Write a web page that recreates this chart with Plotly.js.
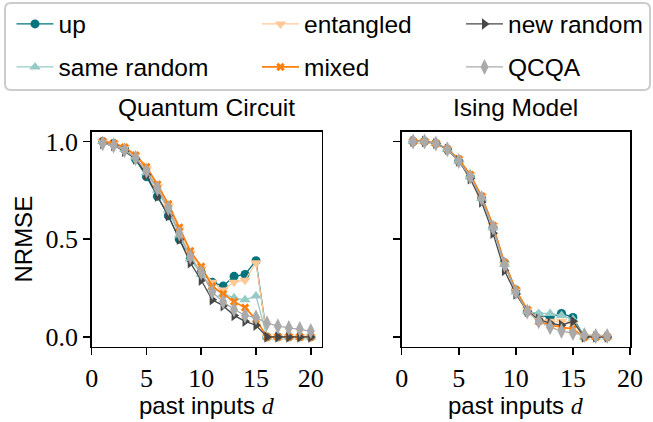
<!DOCTYPE html>
<html>
<head>
<meta charset="utf-8">
<script src="https://cdn.plot.ly/plotly-3.0.1.min.js"></script>
<style>html,body{margin:0;padding:0;background:#fff;}#chart{width:653px;height:422px;}</style>
</head>
<body>
<div id="chart"></div>
<script>
// ---- data ----
const seriesNames = ["up", "same random", "entangled", "mixed", "new random", "QCQA"];
const dCircuit = [1,2,3,4,5,6,7,8,9,10,11,12,13,14,15,16,17,18,19,20];
const circuitUp        = [1.00,0.99,0.96,0.91,0.82,0.72,0.62,0.50,0.40,0.33,0.28,0.26,0.31,0.32,0.39,0.00,0.00,0.00,0.00,0.00];
const circuitSame      = [1.00,0.99,0.96,0.92,0.84,0.75,0.65,0.52,0.40,0.32,0.25,0.22,0.20,0.19,0.21,0.00,0.00,0.00,0.00,0.00];
const circuitEntangled = [1.00,0.99,0.97,0.93,0.86,0.77,0.67,0.55,0.43,0.35,0.28,0.24,0.28,0.29,0.38,0.00,0.00,0.00,0.00,0.00];
const circuitMixed     = [1.00,0.99,0.97,0.93,0.87,0.78,0.68,0.56,0.44,0.36,0.26,0.22,0.18,0.15,0.09,0.00,0.00,0.00,0.00,0.00];
const circuitNew       = [0.99,0.98,0.95,0.91,0.83,0.72,0.62,0.50,0.38,0.29,0.19,0.16,0.11,0.08,0.06,0.00,0.00,0.00,0.00,0.00];
const circuitQCQA      = [0.99,0.98,0.955,0.915,0.85,0.76,0.66,0.53,0.41,0.33,0.23,0.18,0.14,0.11,0.10,0.07,0.055,0.046,0.04,0.03];

const dIsing = [1,2,3,4,5,6,7,8,9,10,11,12,13,14,15,16,17,18];
const isingUp        = [1.00,1.00,0.99,0.96,0.90,0.82,0.71,0.56,0.38,0.24,0.13,0.11,0.10,0.12,0.10,0.00,0.00,0.00];
const isingSame      = [1.00,1.00,0.99,0.96,0.90,0.82,0.71,0.56,0.37,0.23,0.13,0.12,0.12,0.11,0.09,0.00,0.00,0.00];
const isingEntangled = [1.00,1.00,0.99,0.96,0.91,0.83,0.72,0.57,0.37,0.24,0.14,0.09,0.08,0.08,0.07,0.00,0.00,0.00];
const isingMixed     = [1.00,1.00,0.99,0.96,0.91,0.83,0.72,0.57,0.38,0.24,0.14,0.08,0.06,0.05,0.04,0.00,0.00,0.00];
const isingNew       = [1.00,1.00,0.99,0.96,0.90,0.81,0.69,0.53,0.34,0.22,0.13,0.09,0.07,0.06,0.08,0.00,0.00,0.00];
const isingQCQA      = [1.00,1.00,0.99,0.96,0.90,0.82,0.71,0.56,0.37,0.23,0.13,0.08,0.05,0.03,0.02,0.01,0.005,0.005];

const yTickVals = [0, 0.5, 1.0];
const yTickText = ["0.0", "0.5", "1.0"];
const xTickVals = [0, 5, 10, 15, 20];
const xTickText = ["0", "5", "10", "15", "20"];

// ---- styles ----
const colors  = ["#00737d", "#96cac7", "#ffc896", "#ff7f0e", "#474747", "#aaaaaa"];
const symbols = ["circle", "triangle-up", "triangle-down", "x", "triangle-right", "diamond-tall"];
const msizes  = [9, 10, 10, 7.5, 10, 11.5];
const lwidths = [1.3, 1.3, 1.3, 1.7, 1.3, 1.3];
const legendIds = ["legend", "legend4", "legend2", "legend5", "legend3", "legend6"];

const circuitData = [circuitUp, circuitSame, circuitEntangled, circuitMixed, circuitNew, circuitQCQA];
const isingData   = [isingUp, isingSame, isingEntangled, isingMixed, isingNew, isingQCQA];

const traces = [];
seriesNames.forEach((name, i) => {
  traces.push({
    x: dCircuit, y: circuitData[i], name: name, type: "scatter", mode: "lines+markers",
    xaxis: "x", yaxis: "y", legend: legendIds[i],
    line: {color: colors[i], width: lwidths[i]},
    marker: {symbol: symbols[i], size: msizes[i], color: colors[i], line: {width: 0}}
  });
});
seriesNames.forEach((name, i) => {
  traces.push({
    x: dIsing, y: isingData[i], name: name, type: "scatter", mode: "lines+markers",
    xaxis: "x2", yaxis: "y2", showlegend: false,
    line: {color: colors[i], width: lwidths[i]},
    marker: {symbol: symbols[i], size: msizes[i], color: colors[i], line: {width: 0}}
  });
});

const W = 653, H = 422;
const px = v => v / W;
const py = v => 1 - v / H;

const sansFont = "Liberation Sans, Arial, sans-serif";
const serifFont = "Liberation Serif, Times New Roman, serif";

const axisCommon = {
  showline: true, linecolor: "#000", linewidth: 1.6, mirror: true,
  ticks: "outside", ticklen: 7, tickwidth: 1.5, tickcolor: "#000",
  showgrid: false, zeroline: false,
  tickfont: {family: serifFont, size: 26, color: "#000"}
};

const legendCommon = (x, y) => ({
  x: x, y: y, xanchor: "left", yanchor: "middle", xref: "paper", yref: "paper",
  bgcolor: "rgba(0,0,0,0)", borderwidth: 0, itemwidth: 37,
  font: {family: sansFont, size: 24.5, color: "#000"}
});

const col = [px(11.5), px(257), px(461)];
const row = [py(24), py(67)];

// rounded legend frame
const bx0 = px(5), bx1 = px(650), by0 = py(90), by1 = py(3);
const rx = px(6), ry = 6 / H;
const framePath = `M ${bx0+rx},${by1} L ${bx1-rx},${by1} Q ${bx1},${by1} ${bx1},${by1-ry} L ${bx1},${by0+ry} Q ${bx1},${by0} ${bx1-rx},${by0} L ${bx0+rx},${by0} Q ${bx0},${by0} ${bx0},${by0+ry} L ${bx0},${by1-ry} Q ${bx0},${by1} ${bx0+rx},${by1} Z`;

const xTitle = "past inputs <span style=\"font-family:Liberation Serif;font-style:italic\">d</span>";
const textFont = {family: sansFont, size: 24.5, color: "#000"};

const layout = {
  width: W, height: H,
  margin: {l: 0, r: 0, t: 0, b: 0},
  paper_bgcolor: "#fff", plot_bgcolor: "#fff",
  xaxis: Object.assign({}, axisCommon, {
    domain: [px(91.7), px(321.7)], range: [0, 21], anchor: "y",
    tickvals: xTickVals, ticktext: xTickText
  }),
  yaxis: Object.assign({}, axisCommon, {
    domain: [1 - 346.7 / H, 1 - 131.7 / H], range: [-0.05, 1.05], anchor: "x",
    tickvals: yTickVals, ticktext: yTickText,
    title: {text: "NRMSE", font: {family: sansFont, size: 24, color: "#000"}, standoff: 6}
  }),
  xaxis2: Object.assign({}, axisCommon, {
    domain: [px(401.7), px(630)], range: [0, 20], anchor: "y2",
    tickvals: xTickVals, ticktext: xTickText
  }),
  yaxis2: Object.assign({}, axisCommon, {
    domain: [1 - 346.7 / H, 1 - 131.7 / H], range: [-0.05, 1.05], anchor: "x2",
    tickvals: yTickVals, ticktext: yTickText, showticklabels: false
  }),
  legend:  legendCommon(col[0], row[0]),
  legend4: legendCommon(col[0], row[1]),
  legend2: legendCommon(col[1], row[0]),
  legend5: legendCommon(col[1], row[1]),
  legend3: legendCommon(col[2], row[0]),
  legend6: legendCommon(col[2], row[1]),
  shapes: [{
    type: "path", path: framePath, xref: "paper", yref: "paper",
    line: {color: "#cccccc", width: 2}, fillcolor: "rgba(255,255,255,0.8)", layer: "below"
  }],
  annotations: [
    {text: "Quantum Circuit", x: px(206.7), y: py(123), xref: "paper", yref: "paper",
     xanchor: "center", yanchor: "bottom", showarrow: false, font: textFont},
    {text: "Ising Model", x: px(515.8), y: py(123), xref: "paper", yref: "paper",
     xanchor: "center", yanchor: "bottom", showarrow: false, font: textFont},
    {text: xTitle, x: px(206.7), y: py(405), xref: "paper", yref: "paper",
     xanchor: "center", yanchor: "middle", showarrow: false, borderpad: 0,
     font: {family: sansFont, size: 24, color: "#000"}},
    {text: xTitle, x: px(515.8), y: py(405), xref: "paper", yref: "paper",
     xanchor: "center", yanchor: "middle", showarrow: false, borderpad: 0,
     font: {family: sansFont, size: 24, color: "#000"}}
  ],
  showlegend: true
};

Plotly.newPlot("chart", traces, layout, {displayModeBar: false, staticPlot: true});
</script>
</body>
</html>
